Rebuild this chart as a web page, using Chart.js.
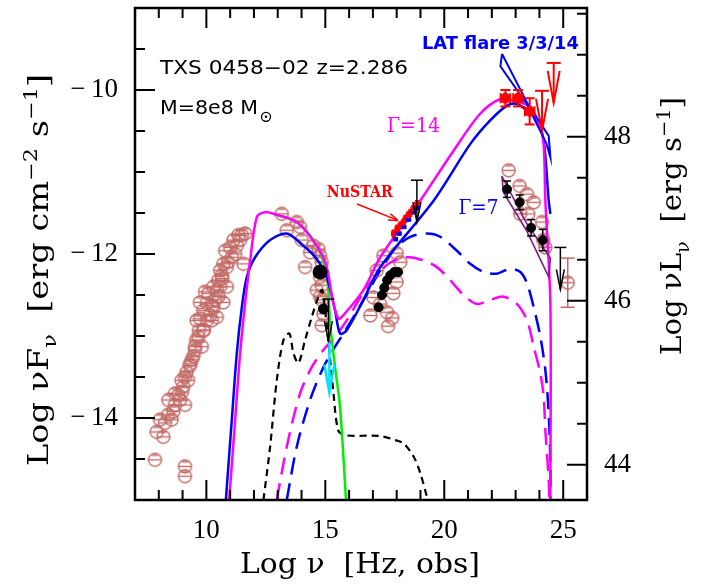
<!DOCTYPE html>
<html>
<head>
<meta charset="utf-8">
<script src="https://cdn.jsdelivr.net/npm/chart.js@4"></script>
<style>
  html, body { margin: 0; padding: 0; background: #fff; }
</style>
</head>
<body>
<canvas id="chart" width="703" height="586"></canvas>
<script>
// log nu [Hz]  vs  log nuFnu [erg cm^-2 s^-1]
const xTicks = [10, 15, 20, 25];
const yTicks = [-14, -12, -10];
const lumTicks = [44, 46, 48];
const lumOffset = 58.57;   // log nuLnu = log nuFnu + offset

// archival data (open circles)
const archSyn = [
  [7.84,-14.51],[9.10,-14.59],[9.10,-14.71],[7.91,-14.17],[8.19,-14.23],[8.26,-14.06],
  [8.54,-14.02],[8.61,-13.92],[8.68,-13.84],[8.82,-13.72],[9.10,-13.84],[9.03,-13.62],
  [9.10,-13.50],[9.17,-13.44],[9.39,-13.29],[9.45,-13.25],[9.66,-13.01],[9.81,-13.13],
  [9.73,-12.79],[9.87,-12.69],[10.02,-12.60],[10.23,-12.81],[10.08,-12.48],[10.37,-12.56],
  [10.29,-12.40],[10.50,-12.32],[10.58,-12.20],[10.71,-12.12],[10.79,-11.96],[11.00,-11.92],
  [11.21,-12.00],[11.14,-11.83],[11.35,-11.77],[11.56,-12.12],[11.49,-11.77],[10.86,-12.40],
  [10.71,-12.59],[9.94,-12.46],[10.44,-12.77],[9.23,-13.54],[9.31,-13.36],[9.52,-13.17],
  [9.57,-13.05],[9.90,-12.93],[10.16,-12.75],[10.24,-12.63],[10.45,-12.44],[10.66,-12.30],
  [10.91,-12.10],[8.05,-14.02],[8.39,-13.96],[8.89,-13.78],[8.98,-13.68],[9.69,-12.93],
  [8.40,-13.78],[8.68,-13.70],[8.96,-13.54],[9.31,-13.34],[9.52,-13.13],[9.87,-12.93],
  [10.02,-12.81],[10.29,-12.65],[10.50,-12.52],[10.58,-12.40],[10.65,-12.26],[10.86,-12.16],
  [11.07,-12.04],[11.28,-11.90],[11.42,-11.83],[9.73,-12.59],[9.59,-12.81],[11.63,-11.75],
  [13.17,-11.51],[13.80,-11.61],[13.38,-11.71],[13.94,-11.67],[14.01,-11.83],[14.50,-11.90],
  [14.71,-11.94],[14.78,-12.02],[14.36,-11.98],[14.15,-12.16],[14.85,-12.10],[14.78,-12.28],
  [14.85,-12.38],[14.64,-12.44],[14.78,-12.52],[14.85,-12.56],[14.92,-12.73],[14.85,-12.87]
];
const archXray = [
  [17.16,-12.20],[17.44,-12.02],[18.00,-11.99],[18.15,-12.10],[18.00,-12.34],[17.86,-12.48],
  [17.02,-12.53],[17.30,-12.61],[17.59,-12.71],[16.89,-12.75],[17.81,-12.78],[17.64,-12.88]
];
const archGamma = [
  [22.71,-10.98],[23.17,-11.17],[23.48,-11.27],[23.76,-11.37],[23.19,-11.51],[23.53,-11.51],
  [24.11,-11.61],[24.16,-11.83],[24.25,-11.92]
];
const archTeV = [[25.19,-12.35]];
const archTeVErr = [0.3];

// simultaneous data (filled black)
const optBig = [[14.78,-12.22]];
const optSmall = [[14.92,-12.67]];
const xrayBlack = [[17.24,-12.65],[17.38,-12.50],[17.48,-12.41],[17.60,-12.32],[17.73,-12.26],[17.90,-12.22],[18.06,-12.22]];
const gamBlack = [[22.64,-11.21],[23.17,-11.37],[23.65,-11.68],[24.14,-11.83]];
const gamBlackErr = [0.10, 0.09, 0.10, 0.13];

// flare data (red) and XRT (blue)
const latFlare = [[22.57,-10.10],[23.10,-10.10],[23.59,-10.26]];
const latFlareErrY = [0.10, 0.10, 0.16];
const latFlareErrX = [0.2, 0.2, 0.2];
const nustar = [[17.87,-11.75],[18.02,-11.69],[18.15,-11.65],[18.27,-11.62],[18.36,-11.57],[18.48,-11.53],[18.57,-11.50],[18.69,-11.45],[18.85,-11.39]];
const xrt = [[17.95,-11.82],[18.10,-11.75],[18.30,-11.67],[18.50,-11.58],[18.70,-11.49],[18.85,-11.44]];

// upper limits
const ulRed = [[24.11,-10.01],[24.60,-9.67]];
const ulBlack = [[18.85,-11.10],[24.88,-11.92],[15.13,-12.55]];
const ulCyan = [[15.17,-13.08]];

// bowties
const latBowtie = [[22.43,-9.56],[23.49,-10.16],[24.39,-10.56],[24.46,-10.82],[24.29,-10.65],[23.49,-10.18],[22.36,-9.71],[22.43,-9.56]];
const oldBowtie = [[22.42,-11.05],[23.45,-11.62],[24.46,-12.05],[24.39,-12.28],[23.45,-11.71],[22.49,-11.25],[22.42,-11.05]];

// models
const modelG14 = [
  [10.95,-15.0],[11.00,-14.84],[11.21,-14.02],[11.42,-13.21],[11.63,-12.60],[11.84,-12.08],
  [12.12,-11.55],[12.45,-11.49],[12.82,-11.51],[13.80,-11.61],[14.64,-11.90],[15.06,-12.16],
  [15.30,-12.55],[15.55,-12.79],[15.75,-12.75],[16.60,-12.44],[17.31,-12.04],[18.99,-11.35],
  [20.39,-10.74],[21.51,-10.29],[22.36,-10.11],[22.92,-10.13],[23.62,-10.21],[24.04,-10.46],
  [24.18,-10.66],[24.25,-11.35],[24.46,-12.60],[24.46,-15.0]
];
const modelG7 = [
  [10.82,-15.0],[10.86,-14.84],[11.07,-14.02],[11.28,-13.21],[11.49,-12.65],[11.70,-12.28],
  [12.05,-12.04],[12.68,-11.83],[13.38,-11.75],[14.08,-11.90],[14.64,-12.06],[15.06,-12.28],
  [15.41,-12.69],[15.62,-12.97],[15.90,-12.93],[16.60,-12.56],[17.31,-12.16],[19.55,-11.35],
  [21.09,-10.66],[21.93,-10.37],[22.64,-10.19],[23.06,-10.17],[23.48,-10.25],[23.90,-10.37],
  [24.18,-10.62],[24.39,-11.35],[24.46,-11.51]
];
const modelDisk = [
  [12.82,-11.51],[13.80,-11.61],[14.64,-11.90],[15.06,-12.26],[15.20,-12.84],[15.41,-13.38],
  [15.62,-13.87],[15.87,-15.0]
];
const modelTorusCorona = [
  [12.40,-15.0],[12.68,-14.35],[12.96,-13.54],[13.24,-13.05],[13.49,-12.97],[13.66,-13.21],
  [13.87,-13.33],[14.15,-13.05],[14.43,-12.77],[14.71,-12.52],[14.87,-12.44],[15.12,-13.05],
  [15.33,-13.66],[15.54,-14.15],[15.83,-14.21],[17.31,-14.22],[17.94,-14.27],[18.29,-14.31],
  [18.71,-14.47],[18.99,-14.67],[19.27,-14.96],[19.30,-15.0]
];
const modelG14EC = [
  [12.96,-15.0],[13.38,-14.35],[13.94,-13.70],[14.43,-13.38],[14.92,-13.17],[15.41,-13.01],
  [15.90,-12.81],[16.67,-12.44],[17.52,-12.15],[18.15,-12.05],[18.57,-12.04],[19.13,-12.08],
  [19.69,-12.16],[20.25,-12.32],[20.81,-12.50],[21.37,-12.61],[21.93,-12.56],[22.49,-12.52],
  [23.06,-12.61],[23.48,-12.81],[23.76,-13.13],[24.04,-13.46],[24.18,-13.74],[24.25,-14.15],
  [24.39,-14.75],[24.42,-15.0]
];
const modelG7EC = [
  [13.38,-15.0],[13.80,-14.35],[14.36,-13.78],[14.92,-13.38],[15.41,-13.13],[15.76,-12.97],
  [16.47,-12.63],[17.31,-12.20],[17.94,-11.93],[18.57,-11.79],[19.27,-11.75],[19.83,-11.79],
  [20.53,-11.96],[21.09,-12.12],[21.65,-12.22],[22.21,-12.24],[22.77,-12.18],[23.20,-12.22],
  [23.48,-12.36],[23.76,-12.65],[24.04,-13.01],[24.25,-13.42],[24.39,-13.94],[24.46,-14.55],
  [24.46,-15.0]
];

const pts = arr => arr.map(p => ({ x: p[0], y: p[1] }));

// open circle with a bar, as in the archival points
function circleSymbol(color, r) {
  const s = 2 * r + 6;
  const c = document.createElement('canvas');
  c.width = s; c.height = s;
  const g = c.getContext('2d');
  g.strokeStyle = color;
  g.lineWidth = 1.4;
  g.beginPath(); g.arc(s / 2, s / 2, r, 0, 2 * Math.PI); g.stroke();
  g.beginPath(); g.moveTo(s / 2 - r, s / 2); g.lineTo(s / 2 + r, s / 2); g.stroke();
  g.beginPath(); g.moveTo(s / 2 - 3, s / 2 - r + 2); g.lineTo(s / 2 + 3, s / 2 - r + 2); g.stroke();
  return c;
}
const brown = '#c26a66';
const brownSym = circleSymbol(brown, 6.5);

function lineSet(data, color, width, dash, order) {
  return {
    data: pts(data), showLine: true, borderColor: color, borderWidth: width,
    borderDash: dash || [], pointRadius: 0, tension: 0.3, order: order, fill: false
  };
}

const datasets = [
  { data: pts(optBig), pointRadius: 7, backgroundColor: '#000', borderColor: '#000', order: 0 },
  { data: pts(optSmall), pointRadius: 5, backgroundColor: '#000', borderColor: '#000', order: 0 },
  { data: pts(xrayBlack), pointRadius: 4.5, backgroundColor: '#000', borderColor: '#000', order: 0 },
  { data: pts(gamBlack), pointRadius: 4.5, backgroundColor: '#000', borderColor: '#000', order: 0,
    errY: gamBlackErr, capSize: 4, barWidth: 1.5 },
  { data: pts(latFlare), pointRadius: 5, backgroundColor: '#ff0000', borderColor: '#ff0000', order: 1,
    errY: latFlareErrY, errX: latFlareErrX, capSize: 5, barWidth: 2 },
  { data: pts(nustar), pointRadius: 3, pointStyle: 'rect', backgroundColor: '#ff0000', borderColor: '#ff0000', order: 2,
    errX: nustar.map(() => 0.07), errY: nustar.map(() => 0.04), capSize: 2, barWidth: 1.5 },
  { data: pts(xrt), pointRadius: 2.5, pointStyle: 'rect', backgroundColor: '#0000ff', borderColor: '#0000ff', order: 3,
    errX: xrt.map(() => 0.08), capSize: 2, barWidth: 1.5 },
  { data: pts(ulRed), pointRadius: 0, upper: { color: '#ff0000', len: 40, headW: 6, headH: 32, cap: 7, width: 2 } },
  { data: pts(ulBlack), pointRadius: 0, upper: { color: '#000', len: 42, headW: 4, headH: 20, cap: 6, width: 1.5 } },
  { data: pts(ulCyan), pointRadius: 0, upper: { color: '#00e5ff', len: 50, headW: 5, headH: 28, cap: 0, width: 2.5 } },
  Object.assign(lineSet(latBowtie, '#0000ff', 2, null, 4), { tension: 0 }),
  Object.assign(lineSet(oldBowtie, '#7f1f7f', 1.6, null, 4), { tension: 0 }),
  lineSet(modelG14, '#ff00ff', 2.5, null, 5),
  lineSet(modelG7, '#0000ff', 2.5, null, 6),
  lineSet(modelDisk, '#00ee00', 2.5, null, 7),
  lineSet(modelTorusCorona, '#000000', 2.2, [7, 5], 8),
  lineSet(modelG14EC, '#ff00ff', 2.5, [17, 9], 9),
  lineSet(modelG7EC, '#0000ff', 2.5, [17, 9], 10),
  { data: pts(archTeV), pointStyle: brownSym, pointRadius: 6, order: 20,
    errY: archTeVErr, capSize: 7, barWidth: 1.5, barColor: brown },
  { data: pts(archGamma), pointStyle: brownSym, pointRadius: 6, order: 20 },
  { data: pts(archXray), pointStyle: brownSym, pointRadius: 6, order: 20 },
  { data: pts(archSyn), pointStyle: brownSym, pointRadius: 6, order: 20 }
];

function seg(ctx, x1, y1, x2, y2) {
  ctx.beginPath(); ctx.moveTo(x1, y1); ctx.lineTo(x2, y2); ctx.stroke();
}

// error bars and upper-limit arrows
const markers = {
  id: 'markers',
  afterDatasetsDraw(chart) {
    const { ctx, scales: { x, y } } = chart;
    ctx.save();
    chart.data.datasets.forEach(ds => {
      if (ds.errX || ds.errY) {
        ctx.strokeStyle = ds.barColor || ds.borderColor;
        ctx.lineWidth = ds.barWidth || 1.5;
        const cap = ds.capSize || 4;
        ds.data.forEach((p, i) => {
          const px = x.getPixelForValue(p.x), py = y.getPixelForValue(p.y);
          if (ds.errY) {
            const y1 = y.getPixelForValue(p.y + ds.errY[i]), y2 = y.getPixelForValue(p.y - ds.errY[i]);
            seg(ctx, px, y1, px, y2);
            seg(ctx, px - cap, y1, px + cap, y1);
            seg(ctx, px - cap, y2, px + cap, y2);
          }
          if (ds.errX) {
            const x1 = x.getPixelForValue(p.x - ds.errX[i]), x2 = x.getPixelForValue(p.x + ds.errX[i]);
            seg(ctx, x1, py, x2, py);
            seg(ctx, x1, py - cap, x1, py + cap);
            seg(ctx, x2, py - cap, x2, py + cap);
          }
        });
      }
      if (ds.upper) {
        const u = ds.upper;
        ctx.strokeStyle = u.color;
        ctx.lineWidth = u.width;
        ds.data.forEach(p => {
          const px = x.getPixelForValue(p.x), py = y.getPixelForValue(p.y);
          if (u.cap) seg(ctx, px - u.cap, py, px + u.cap, py);
          seg(ctx, px, py, px, py + u.len);
          ctx.beginPath();
          ctx.moveTo(px - u.headW, py + u.len - u.headH);
          ctx.lineTo(px, py + u.len);
          ctx.lineTo(px + u.headW, py + u.len - u.headH);
          ctx.stroke();
        });
      }
    });
    ctx.restore();
  }
};

// inward ticks on all four sides and the frame
const frame = {
  id: 'frame',
  afterDatasetsDraw(chart) {
    const { ctx, chartArea: a, scales } = chart;
    ctx.save();
    ctx.strokeStyle = '#000';
    ctx.lineWidth = 2;
    for (let v = 8; v <= 26; v++) {
      const px = scales.x.getPixelForValue(v);
      const len = v % 5 === 0 ? 20 : 10;
      seg(ctx, px, a.bottom, px, a.bottom - len);
      seg(ctx, px, a.top, px, a.top + len);
    }
    for (let v = -14.5; v <= -9.5; v += 0.5) {
      const py = scales.y.getPixelForValue(v);
      const len = v % 2 === 0 ? 20 : 10;
      seg(ctx, a.left, py, a.left + len, py);
    }
    for (let v = 44; v <= 49.5; v += 0.5) {
      const py = scales.yR.getPixelForValue(v);
      const len = v % 2 === 0 ? 20 : 10;
      seg(ctx, a.right, py, a.right - len, py);
    }
    ctx.lineWidth = 2.5;
    ctx.strokeRect(a.left, a.top, a.width, a.height);
    ctx.restore();
  }
};

// text fitted to a width
function fitText(ctx, text, px, py, w, font, color) {
  ctx.save();
  ctx.font = font;
  ctx.fillStyle = color;
  ctx.textAlign = 'left';
  ctx.textBaseline = 'alphabetic';
  const m = ctx.measureText(text).width;
  ctx.translate(px, py);
  ctx.scale(w / m, 1);
  ctx.fillText(text, 0, 0);
  ctx.restore();
}

// text with sub/superscripts, centred, fitted to a length
function richText(ctx, segs, cx, cy, len, size, family, rot) {
  ctx.save();
  ctx.translate(cx, cy);
  ctx.rotate(rot);
  ctx.fillStyle = '#000';
  ctx.textBaseline = 'alphabetic';
  ctx.textAlign = 'left';
  const fontOf = k => (k === 'n' ? size : Math.round(size * 0.65)) + 'px ' + family;
  const ws = segs.map(([t, k]) => { ctx.font = fontOf(k); return ctx.measureText(t).width; });
  const total = ws.reduce((s, w) => s + w, 0);
  ctx.scale(len / total, 1);
  let x = -total / 2;
  segs.forEach(([t, k], i) => {
    ctx.font = fontOf(k);
    const dy = k === 'sub' ? size * 0.28 : k === 'sup' ? -size * 0.42 : 0;
    ctx.fillText(t, x, dy);
    x += ws[i];
  });
  ctx.restore();
}

const serif = '"DejaVu Serif"';

const labels = {
  id: 'labels',
  afterDraw(chart) {
    const { ctx, scales: { x, y } } = chart;
    const X = v => x.getPixelForValue(v), Y = v => y.getPixelForValue(v);
    fitText(ctx, 'TXS 0458\u221202 z=2.286', X(8.05), Y(-9.80), 248, '19px "DejaVu Sans"', '#000');
    fitText(ctx, 'M=8e8 M', X(8.05), Y(-10.29), 98, '19px "DejaVu Sans"', '#000');
    ctx.save();
    ctx.strokeStyle = '#000'; ctx.fillStyle = '#000'; ctx.lineWidth = 1.3;
    ctx.beginPath(); ctx.arc(X(8.05) + 106, Y(-10.29) + 3, 4.5, 0, 2 * Math.PI); ctx.stroke();
    ctx.beginPath(); ctx.arc(X(8.05) + 106, Y(-10.29) + 3, 1.2, 0, 2 * Math.PI); ctx.fill();
    ctx.restore();
    fitText(ctx, 'LAT flare 3/3/14', X(19.06), Y(-9.50), 157, 'bold 17px "DejaVu Sans"', '#0000ff');
    fitText(ctx, '\u0393=14', X(17.59), Y(-10.51), 53, '21px "DejaVu Serif"', '#ff00ff');
    fitText(ctx, '\u0393=7', X(20.60), Y(-11.51), 40, '21px "DejaVu Serif"', '#0000ff');
    fitText(ctx, 'NuSTAR', X(15.06), Y(-11.31), 66, 'bold 17px "DejaVu Serif"', '#ff0000');

    // arrow pointing at the NuSTAR spectrum
    ctx.save();
    ctx.strokeStyle = '#ff0000'; ctx.lineWidth = 1.5;
    const x1 = X(16.33), y1 = Y(-11.39), x2 = X(18.05), y2 = Y(-11.59);
    seg(ctx, x1, y1, x2, y2);
    const ang = Math.atan2(y2 - y1, x2 - x1);
    seg(ctx, x2, y2, x2 - 10 * Math.cos(ang - 0.35), y2 - 10 * Math.sin(ang - 0.35));
    seg(ctx, x2, y2, x2 - 10 * Math.cos(ang + 0.35), y2 - 10 * Math.sin(ang + 0.35));
    ctx.restore();

    richText(ctx, [['Log \u03bd  [Hz, obs]', 'n']], 360, 573, 240, 27, serif, 0);
    richText(ctx, [['Log \u03bdF', 'n'], ['\u03bd', 'sub'], ['  [erg cm', 'n'], ['\u22122', 'sup'], [' s', 'n'], ['\u22121', 'sup'], [']', 'n']],
      48, 270, 392, 27, serif, -Math.PI / 2);
    richText(ctx, [['Log \u03bdL', 'n'], ['\u03bd', 'sub'], ['  [erg s', 'n'], ['\u22121', 'sup'], [']', 'n']],
      681, 226, 258, 27, serif, -Math.PI / 2);
  }
};

const tickFont = { family: 'Liberation Serif', size: 27 };
const fmt = v => (v < 0 ? '\u2212\u2009' + Math.abs(v) : String(v));
const fixSize = (w, h) => s => {
  if (w !== null) s.width = w;
  if (h !== null) s.height = h;
  s.paddingTop = 0; s.paddingBottom = 0; s.paddingLeft = 0; s.paddingRight = 0;
};

new Chart(document.getElementById('chart'), {
  type: 'scatter',
  data: { datasets: datasets },
  options: {
    responsive: false,
    animation: false,
    devicePixelRatio: 1,
    layout: { padding: { top: 7, left: 0, right: 0, bottom: 0 } },
    plugins: { legend: { display: false }, tooltip: { enabled: false } },
    scales: {
      x: {
        type: 'linear', min: 7, max: 26, position: 'bottom',
        afterBuildTicks: s => { s.ticks = xTicks.map(v => ({ value: v })); },
        afterFit: fixSize(null, 86),
        grid: { display: false, drawTicks: false }, border: { display: false },
        ticks: { font: tickFont, color: '#000', padding: 15, maxRotation: 0, callback: fmt }
      },
      y: {
        type: 'linear', min: -15, max: -9, position: 'left',
        afterBuildTicks: s => { s.ticks = yTicks.map(v => ({ value: v })); },
        afterFit: fixSize(135, null),
        grid: { display: false, drawTicks: false }, border: { display: false },
        ticks: { font: tickFont, color: '#000', padding: 17, callback: fmt }
      },
      yR: {
        type: 'linear', min: -15 + lumOffset, max: -9 + lumOffset, position: 'right',
        afterBuildTicks: s => { s.ticks = lumTicks.map(v => ({ value: v })); },
        afterFit: fixSize(116, null),
        grid: { display: false, drawTicks: false }, border: { display: false },
        ticks: { font: tickFont, color: '#000', padding: 17, callback: fmt }
      }
    }
  },
  plugins: [markers, frame, labels]
});
</script>
</body>
</html>
